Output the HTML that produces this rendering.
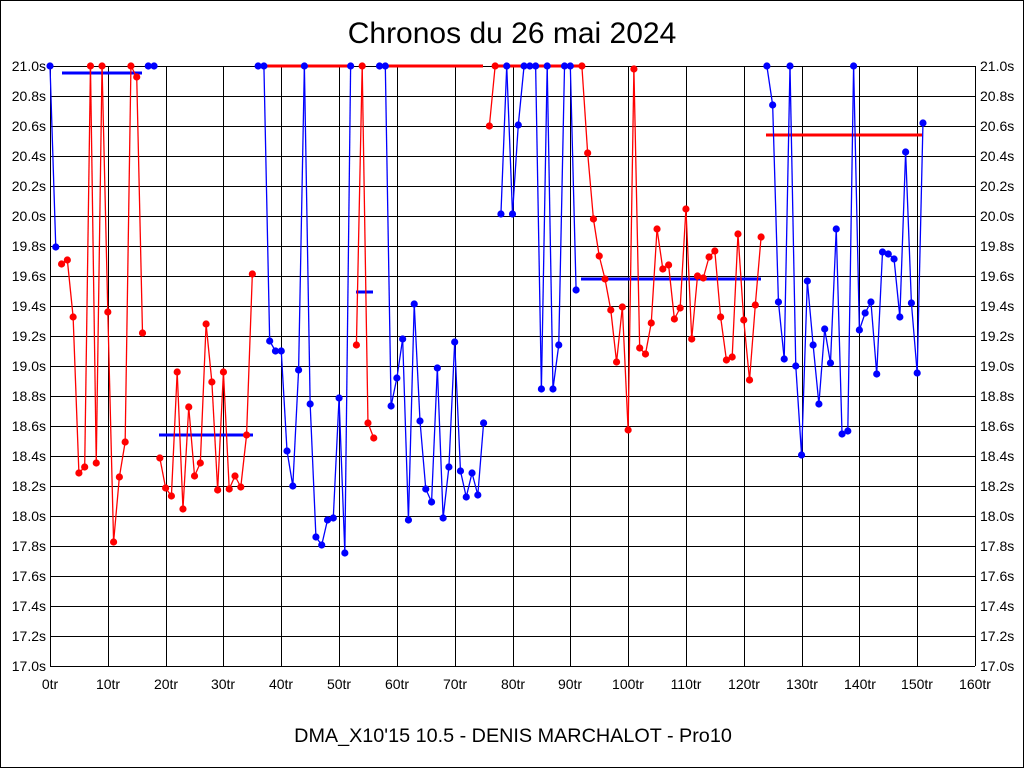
<!DOCTYPE html>
<html><head><meta charset="utf-8"><style>
html,body{margin:0;padding:0;background:#fff;}
svg{display:block;}
text{font-family:"Liberation Sans",sans-serif;fill:#000;}
</style></head><body>
<svg id="s" width="1024" height="768" xmlns="http://www.w3.org/2000/svg">
<rect x="0.5" y="0.5" width="1023" height="767" fill="#fff" stroke="#000"/>
<text x="512" y="43" font-size="30" text-anchor="middle">Chronos du 26 mai 2024</text>
<text x="513" y="742" font-size="19.8" text-anchor="middle">DMA_X10'15 10.5 - DENIS MARCHALOT - Pro10</text>
<g id="grid" stroke="#000" stroke-width="1"></g>
<g font-size="14" text-anchor="end">
<text x="46" y="71">21.0s</text><text x="46" y="101">20.8s</text><text x="46" y="131">20.6s</text><text x="46" y="161">20.4s</text><text x="46" y="191">20.2s</text><text x="46" y="221">20.0s</text><text x="46" y="251">19.8s</text><text x="46" y="281">19.6s</text><text x="46" y="311">19.4s</text><text x="46" y="341">19.2s</text><text x="46" y="371">19.0s</text><text x="46" y="401">18.8s</text><text x="46" y="431">18.6s</text><text x="46" y="461">18.4s</text><text x="46" y="491">18.2s</text><text x="46" y="521">18.0s</text><text x="46" y="551">17.8s</text><text x="46" y="581">17.6s</text><text x="46" y="611">17.4s</text><text x="46" y="641">17.2s</text><text x="46" y="671">17.0s</text>
</g>
<g font-size="14" text-anchor="start">
<text x="980" y="71">21.0s</text><text x="980" y="101">20.8s</text><text x="980" y="131">20.6s</text><text x="980" y="161">20.4s</text><text x="980" y="191">20.2s</text><text x="980" y="221">20.0s</text><text x="980" y="251">19.8s</text><text x="980" y="281">19.6s</text><text x="980" y="311">19.4s</text><text x="980" y="341">19.2s</text><text x="980" y="371">19.0s</text><text x="980" y="401">18.8s</text><text x="980" y="431">18.6s</text><text x="980" y="461">18.4s</text><text x="980" y="491">18.2s</text><text x="980" y="521">18.0s</text><text x="980" y="551">17.8s</text><text x="980" y="581">17.6s</text><text x="980" y="611">17.4s</text><text x="980" y="641">17.2s</text><text x="980" y="671">17.0s</text>
</g>
<g font-size="14" text-anchor="middle">
<text x="50" y="689">0tr</text><text x="108" y="689">10tr</text><text x="166" y="689">20tr</text><text x="223" y="689">30tr</text><text x="281" y="689">40tr</text><text x="339" y="689">50tr</text><text x="397" y="689">60tr</text><text x="455" y="689">70tr</text><text x="513" y="689">80tr</text><text x="570" y="689">90tr</text><text x="628" y="689">100tr</text><text x="686" y="689">110tr</text><text x="744" y="689">120tr</text><text x="802" y="689">130tr</text><text x="860" y="689">140tr</text><text x="917" y="689">150tr</text><text x="975" y="689">160tr</text>
</g>
<g id="avg" stroke-width="3">
<line x1="62" y1="73" x2="142" y2="73" stroke="#00f"/>
<line x1="263" y1="66" x2="350" y2="66" stroke="#f00"/>
<line x1="385" y1="66" x2="483" y2="66" stroke="#f00"/>
<line x1="498" y1="66" x2="580" y2="66" stroke="#f00"/>
<line x1="159" y1="435" x2="253" y2="435" stroke="#00f"/>
<line x1="356" y1="292" x2="373" y2="292" stroke="#00f"/>
<line x1="581" y1="279" x2="761" y2="279" stroke="#00f"/>
<line x1="766" y1="135" x2="922" y2="135" stroke="#f00"/>
</g>
<g id="data"></g>
</svg>
<script>
var g=document.getElementById('grid'),h='';
for(var i=0;i<=20;i++){var y=66+30*i;h+='<line x1="50" y1="'+(y+.5)+'" x2="975" y2="'+(y+.5)+'"/>';}
for(var i=0;i<=16;i++){var x=Math.round(50+925*i/16)+.5;h+='<line x1="'+x+'" y1="66" x2="'+x+'" y2="666"/>';}
g.innerHTML=h;
var Y=[66,247,264,260,317,473,467,66,463,66,312,542,477,442,66,77,333,66,66,458,488,496,372,509,407,476,463,324,382,490,372,489,476,487,435,274,66,66,341,351,351,451,486,370,66,404,537,545,520,518,398,553,66,345,66,423,438,66,66,406,378,339,520,304,421,489,502,368,518,467,342,471,497,473,495,423,126,66,214,66,214,125,66,66,66,389,66,389,345,66,66,290,66,153,219,256,279,310,362,307,430,69,348,354,323,229,269,265,319,308,209,339,276,278,257,251,317,360,357,234,320,380,305,237,66,105,302,359,66,366,455,281,345,404,329,363,229,434,431,66,330,313,302,374,252,254,259,317,152,303,373,123];
var blue={};[0,1,17,18,36,37].forEach(function(i){blue[i]=1});
for(var i=38;i<=52;i++)blue[i]=1;for(var i=57;i<=75;i++)blue[i]=1;for(var i=78;i<=91;i++)blue[i]=1;for(var i=124;i<=151;i++)blue[i]=1;
var d='';function X(i){return 50+925*i/160;}
for(var i=0;i<Y.length-1;i++){if(!!blue[i]!=!!blue[i+1])continue;d+='<line x1="'+X(i)+'" y1="'+Y[i]+'" x2="'+X(i+1)+'" y2="'+Y[i+1]+'" stroke="'+(blue[i]?'#00f':'#f00')+'" stroke-width="1.3"/>';}
for(var i=0;i<Y.length;i++){d+='<circle cx="'+X(i)+'" cy="'+Y[i]+'" r="3.6" fill="'+(blue[i]?'#00f':'#f00')+'"/>';}
document.getElementById('data').innerHTML=d;
</script>
</body></html>
